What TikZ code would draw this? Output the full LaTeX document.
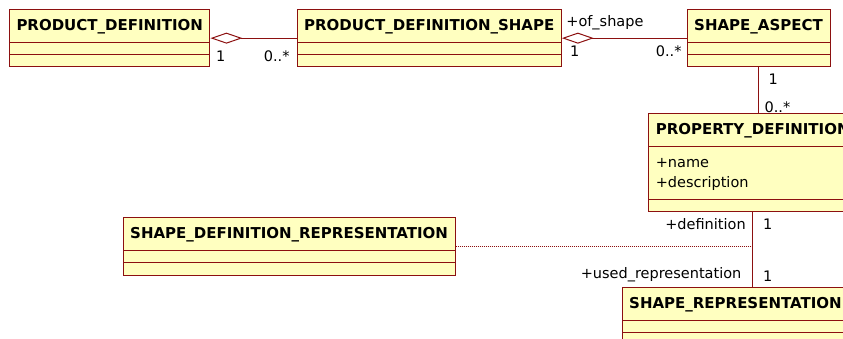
\documentclass[tikz,border=0pt]{standalone}
\usepackage{fontspec}
\setmainfont{DejaVu Sans}
\usepackage{xcolor}
\usetikzlibrary{arrows.meta, shapes.multipart}

\definecolor{roseline}{RGB}{140,16,16}
\definecolor{rosefill}{RGB}{255,255,192}

\begin{document}
\begin{tikzpicture}[
  x=1pt, y=-1pt,
  umlclass/.style={draw=roseline, fill=rosefill, line width=1pt,
    rectangle split, rectangle split parts=3, rectangle split part align=left,
    rectangle split empty part height=11.3pt, rectangle split empty part depth=0pt,
    inner xsep=7pt, inner ysep=0pt, anchor=north west,
    font=\fontsize{15}{17}\selectfont\bfseries,
    execute at begin node=\rule[-11.3pt]{0pt}{31.7pt}},
  assoc/.style={draw=roseline, line width=1pt},
  agg/.style={assoc, {Diamond[open, length=32pt, width=11pt]}-},
  role/.style={font=\fontsize{14.5}{16}\selectfont, inner sep=0pt}
]
\useasboundingbox (0,0) rectangle (843,338);
\clip (0,0) rectangle (843,338);

% classes
\node[umlclass, minimum width=194pt] (pd) at (9,9) {PRODUCT\_DEFINITION};
\node[umlclass, minimum width=261.3pt] (pds) at (296.7,9) {PRODUCT\_DEFINITION\_SHAPE};
\node[umlclass, minimum width=143.3pt] (sa) at (686.7,9) {SHAPE\_ASPECT};
\node[umlclass, minimum width=197pt] (pdef) at (648.3,113.3) {PROPERTY\_DEFINITION
  \nodepart{two}\mdseries\fontsize{14.5}{20}\selectfont
  \vtop{\baselineskip=20pt\hbox{\rule{0pt}{19.3pt}+name}\hbox{+description\rule[-11.4pt]{0pt}{0pt}}}};
\node[umlclass, minimum width=331.3pt] (sdr) at (122.7,217.3) {SHAPE\_DEFINITION\_REPRESENTATION};
\node[umlclass, minimum width=228pt] (sr) at (621.7,287) {SHAPE\_REPRESENTATION};

% associations
\draw[agg] (pd.east) -- (pds.west);
\draw[agg] (pds.east) -- (sa.west);
\draw[assoc] (sa.south) -- (sa.south |- pdef.north);
\draw[assoc] (pdef.south) -- (pdef.south |- sr.north);
\draw[assoc, dash pattern=on 1pt off 1pt] (sdr.east) -- (sdr.east -| pdef.south);

% multiplicities and roles
\node[role, anchor=base west] (pd-one) at ([shift={(5.5,23.8)}]pd.east) {1};
\node[role, anchor=base east] (pds-many) at ([shift={(-7,23.8)}]pds.west) {0..*};
\node[role, anchor=base west] (pds-role) at ([shift={(4.3,-11.2)}]pds.east) {+of\_shape};
\node[role, anchor=base west] (pds-one) at ([shift={(8,18.8)}]pds.east) {1};
\node[role, anchor=base east] (sa-many) at ([shift={(-5,18.8)}]sa.west) {0..*};
\node[role, anchor=base west] (sa-one) at ([shift={(9.6,16.7)}]sa.south) {1};
\node[role, anchor=base west] (pdef-many) at ([shift={(5.6,45)}]sa.south) {0..*};
\node[role, anchor=base east] (pdef-role) at ([shift={(-6.8,17.7)}]pdef.south) {+definition};
\node[role, anchor=base west] (pdef-one) at ([shift={(10.2,17.7)}]pdef.south) {1};
\node[role, anchor=base east] (sr-role) at ([shift={(-11.1,-8.7)}]pdef.south |- sr.north) {+used\_representation};
\node[role, anchor=base west] (sr-one) at ([shift={(10.2,-5.3)}]pdef.south |- sr.north) {1};
\end{tikzpicture}
\end{document}
